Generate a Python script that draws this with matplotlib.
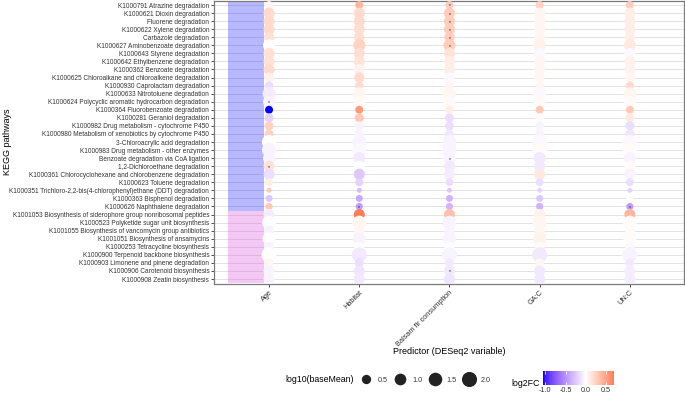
import numpy as np
import matplotlib
matplotlib.use("Agg")
import matplotlib.pyplot as plt
from matplotlib.colors import ListedColormap, Normalize
from matplotlib.lines import Line2D
from matplotlib.cm import ScalarMappable

plt.rcParams['font.family'] = ['Liberation Sans', 'DejaVu Sans']

pathways = [
    "K1000791 Atrazine degradation",
    "K1000621 Dioxin degradation",
    "Fluorene degradation",
    "K1000622 Xylene degradation",
    "Carbazole degradation",
    "K1000627 Aminobenzoate degradation",
    "K1000643 Styrene degradation",
    "K1000642 Ethylbenzene degradation",
    "K1000362 Benzoate degradation",
    "K1000625 Chloroalkane and chloroalkene degradation",
    "K1000930 Caprolactam degradation",
    "K1000633 Nitrotoluene degradation",
    "K1000624 Polycyclic aromatic hydrocarbon degradation",
    "K1000364 Fluorobenzoate degradation",
    "K1000281 Geraniol degradation",
    "K1000982 Drug metabolism - cytochrome P450",
    "K1000980 Metabolism of xenobiotics by cytochrome P450",
    "3-Chloroacrylic acid degradation",
    "K1000983 Drug metabolism - other enzymes",
    "Benzoate degradation via CoA ligation",
    "1,2-Dichloroethane degradation",
    "K1000361 Chlorocyclohexane and chlorobenzene degradation",
    "K1000623 Toluene degradation",
    "K1000351 Trichloro-2,2-bis(4-chlorophenyl)ethane (DDT) degradation",
    "K1000363 Bisphenol degradation",
    "K1000626 Naphthalene degradation",
    "K1001053 Biosynthesis of siderophore group nonribosomal peptides",
    "K1000523 Polyketide sugar unit biosynthesis",
    "K1001055 Biosynthesis of vancomycin group antibiotics",
    "K1001051 Biosynthesis of ansamycins",
    "K1000253 Tetracycline biosynthesis",
    "K1000900 Terpenoid backbone biosynthesis",
    "K1000903 Limonene and pinene degradation",
    "K1000906 Carotenoid biosynthesis",
    "K1000908 Zeatin biosynthesis",
]
predictors = ["Age", "Habitat", "Balsam fir consumption", "GA:C", "UN:C"]
group_sizes = [26, 9]
group_colors = ["#0000FF", "#D83CD8"]

log10_basemean = [0.3, 0.85, 0.85, 0.85, 0.7, 1.1, 0.85, 0.85, 0.85, 0.65,
                  0.35, 1.35, 1.1, 0.3, 0.45, 0.45, 0.45, 1.7, 1.7, 1.1,
                  0.85, 0.85, 0.3, 0.03, 0.18, 0.2, 0.85, 1.6, 0.65, 1.35,
                  0.65, 2.0, 0.45, 0.85, 0.85]

lfc_age = [0.05, 0.2, 0.2, 0.2, 0.17, 0.0, 0.17, 0.17, 0.2, 0.08,
           -0.15, -0.08, -0.05, -1.06, -0.2, 0.25, 0.25, 0.0, -0.05, -0.05,
           0.15, -0.15, 0.1, 0.3, -0.25, 0.3, -0.08, 0.0, -0.05, 0.0,
           -0.05, 0.0, 0.05, -0.05, -0.05]
lfc_habitat = [0.4, 0.2, 0.2, 0.18, 0.18, 0.25, 0.18, 0.15, 0.08, 0.2,
               0.2, 0.05, 0.03, 0.55, 0.3, -0.05, -0.05, -0.05, -0.03, -0.1,
               0.0, -0.25, -0.2, -0.3, -0.4, -0.45, 0.70, 0.05, 0.06, -0.05,
               0.0, -0.1, -0.15, -0.12, -0.1]
lfc_balsam = [0.28, 0.28, 0.28, 0.28, 0.28, 0.28, 0.15, 0.1, 0.1, -0.03,
              0.05, 0.05, 0.03, 0.1, -0.15, -0.15, -0.1, -0.05, -0.05, -0.05,
              -0.1, -0.08, -0.15, -0.25, -0.35, -0.35, 0.35, -0.05, -0.05, -0.05,
              0.0, -0.05, -0.1, -0.1, -0.12]
lfc_gac = [0.25, 0.05, 0.05, 0.05, 0.05, 0.08, -0.03, 0.05, 0.05, 0.05,
           0.05, -0.03, 0.03, 0.3, 0.02, -0.05, -0.05, -0.03, 0.02, -0.1,
           -0.1, 0.12, -0.15, -0.2, -0.25, -0.35, 0.08, 0.05, 0.05, 0.08,
           0.03, -0.1, 0.05, -0.1, -0.1]
lfc_unc = [0.28, 0.1, 0.1, 0.1, 0.1, 0.12, -0.03, 0.08, 0.08, 0.05,
           0.2, 0.06, 0.03, 0.3, 0.12, -0.15, -0.12, -0.03, 0.02, -0.05,
           0.02, -0.05, -0.15, -0.2, 0.0, -0.45, 0.4, 0.02, 0.02, 0.02,
           -0.03, -0.05, -0.1, -0.08, -0.08]

sig_age = [12, 20]
sig_habitat = [25]
sig_balsam = [0, 1, 2, 3, 4, 5, 19, 33]
sig_gac = []
sig_unc = [25]

lfc_all = [lfc_age, lfc_habitat, lfc_balsam, lfc_gac, lfc_unc]
sig_all = [sig_age, sig_habitat, sig_balsam, sig_gac, sig_unc]

size_legend_vals = [0.5, 1.0, 1.5, 2.0]
cbar_ticks = [-1.0, -0.5, 0.0, 0.5]


# ---- Lab-space diverging gradient (like ggplot2 scale_colour_gradient2) ----
def _to_lab(hexc):
    h = hexc.lstrip('#')
    c = np.array([int(h[i:i + 2], 16) / 255 for i in (0, 2, 4)])
    lin = np.where(c <= 0.04045, c / 12.92, ((c + 0.055) / 1.055) ** 2.4)
    M = np.array([[0.4124564, 0.3575761, 0.1804375],
                  [0.2126729, 0.7151522, 0.0721750],
                  [0.0193339, 0.1191920, 0.9503041]])
    xyz = M @ lin / np.array([0.95047, 1.0, 1.08883])
    f = np.where(xyz > 0.008856, np.cbrt(xyz), 7.787 * xyz + 16 / 116)
    return np.array([116 * f[1] - 16, 500 * (f[0] - f[1]), 200 * (f[1] - f[2])])


def _from_lab(lab):
    L, a, b = lab
    fy = (L + 16) / 116
    fx = fy + a / 500
    fz = fy - b / 200
    f = np.array([fx, fy, fz])
    xyz = np.where(f ** 3 > 0.008856, f ** 3, (f - 16 / 116) / 7.787)
    xyz = xyz * np.array([0.95047, 1.0, 1.08883])
    Minv = np.array([[3.2404542, -1.5371385, -0.4985314],
                     [-0.9692660, 1.8760108, 0.0415560],
                     [0.0556434, -0.2040259, 1.0572252]])
    lin = Minv @ xyz
    lin = np.clip(lin, 0, 1)
    c = np.where(lin <= 0.0031308, 12.92 * lin, 1.055 * lin ** (1 / 2.4) - 0.055)
    return np.clip(c, 0, 1)


lab_lo, lab_mid, lab_hi = _to_lab("#0000FF"), _to_lab("#FFFFFF"), _to_lab("#FF0000")
all_vals = np.concatenate([np.array(v) for v in lfc_all])
vmin, vmax = all_vals.min(), all_vals.max()
span = max(abs(vmin), abs(vmax))
cols = []
for x in np.linspace(vmin, vmax, 256):
    t = 0.5 + x / (2 * span)
    if t < 0.5:
        lab = lab_lo + (lab_mid - lab_lo) * (t / 0.5)
    else:
        lab = lab_mid + (lab_hi - lab_mid) * ((t - 0.5) / 0.5)
    cols.append(_from_lab(lab))
cmap = ListedColormap(cols)
norm = Normalize(vmin=vmin, vmax=vmax)


def diam_px(v):
    return 3.5 + 8.2 * np.sqrt(np.asarray(v, dtype=float))


PX = 0.72  # points per pixel at dpi 100

fig = plt.figure(figsize=(6.85, 3.95), dpi=100)
ax = fig.add_axes([214 / 685, 1 - 284 / 395, (684 - 214) / 685, 283 / 395])

n = len(pathways)
rows = np.arange(n)
ax.set_xlim(0.39, 5.6)
ax.set_ylim(n - 1 + 0.62, -0.5)

# horizontal grid
for r in rows:
    ax.axhline(r, color="#E3E3E3", lw=0.7, zorder=0)

# group bands
start = 0
for gs, gc in zip(group_sizes, group_colors):
    ax.fill_between([0.546, 0.945], start - 0.5, start + gs - 0.5,
                    color=gc, alpha=0.28, lw=0, zorder=1)
    start += gs

sizes = (diam_px(log10_basemean) * PX) ** 2
for j, (vals, sig) in enumerate(zip(lfc_all, sig_all)):
    xs = np.full(n, j + 1.0)
    ax.scatter(xs, rows, s=sizes, c=vals, cmap=cmap, norm=norm,
               linewidths=0, zorder=3)
    for r in sig:
        ax.text(j + 1, r + 0.12, "*", fontsize=3.6, ha="center", va="center",
                color="#111111", zorder=4)

ax.set_yticks(rows)
ax.set_yticklabels(pathways, fontsize=4.7, color="#333333")
ax.set_xticks(np.arange(1, len(predictors) + 1))
ax.set_xticklabels(predictors, fontsize=5.3, color="#333333", rotation=45,
                   ha="right", va="top", rotation_mode="anchor")
ax.tick_params(axis="both", length=2, width=0.6, color="#333333", pad=1.5)
for sp in ax.spines.values():
    sp.set_color("#7A7A7A")
    sp.set_linewidth(0.9)

fig.text(8 / 685, 1 - 142 / 395, "KEGG pathways", rotation=90, fontsize=6.5,
         ha="center", va="center")
fig.text(449 / 685, 1 - 352 / 395, "Predictor (DESeq2 variable)", fontsize=6.5,
         ha="center", va="center")

# size legend
handles = [Line2D([], [], marker="o", ls="", color="#222222", markeredgewidth=0,
                  markersize=diam_px(v) * PX) for v in size_legend_vals]
fig.legend(handles, [f"{v:.1f}" for v in size_legend_vals], ncol=4,
           loc="center left", bbox_to_anchor=(359 / 685, 1 - 380 / 395),
           frameon=False, fontsize=5.2, handlelength=2.0, handletextpad=0.6,
           columnspacing=0.75, borderpad=0, borderaxespad=0, labelcolor="#333333")
fig.text(285 / 685, 1 - 380 / 395, "log10(baseMean)", fontsize=6.3,
         ha="left", va="center")

# colour bar
cax = fig.add_axes([543 / 685, 1 - 385 / 395, 71 / 685, 14 / 395])
cb = fig.colorbar(ScalarMappable(norm=norm, cmap=cmap), cax=cax,
                  orientation="horizontal")
cb.outline.set_visible(False)
cb.set_ticks(cbar_ticks)
cb.set_ticklabels([f"{t:.1f}" for t in cbar_ticks])
cax.tick_params(axis="x", length=2.5, width=0.6, color="white", direction="in",
                top=True, labelsize=5.2, labelcolor="#333333", pad=1.5)
fig.text(511 / 685, 1 - 383 / 395, "log2FC", fontsize=6.3, ha="left", va="center")

fig.savefig("out.png", dpi=100)
